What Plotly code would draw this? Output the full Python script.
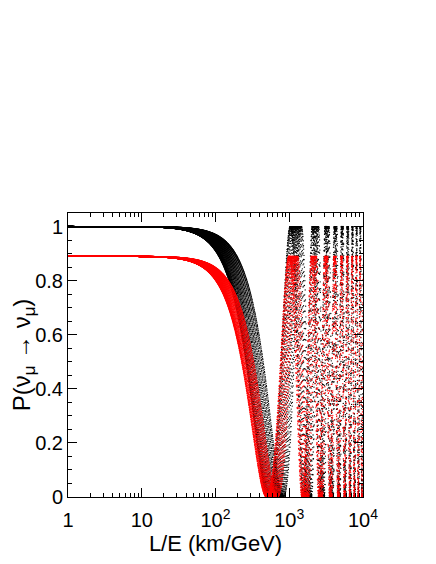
import numpy as np
import plotly.graph_objects as go

# ---- data ----
# effective oscillation phase slope (x1e-3 per km/GeV) of each curve at short L/E
black_k_low = [3.04, 3.01, 2.97, 2.92, 2.86, 2.78, 2.70, 2.60, 2.50, 2.40, 2.30, 2.20, 2.10, 2.00, 1.90, 1.80, 1.72]
red_k_low = [3.20, 3.17, 3.13, 3.08, 3.02, 2.95, 2.87, 2.78, 2.68, 2.58, 2.48, 2.38, 2.28, 2.18]
k_high = 3.11          # common slope at long L/E (x1e-3)
k_turn = 2200.0        # L/E (km/GeV) scale where curves converge
black_plateau = 1.0
red_plateau = 0.89

x_tick_vals = [1, 10, 100, 1000, 10000]
x_tick_text = ["1", "10", "10<sup>2</sup>", "10<sup>3</sup>", "10<sup>4</sup>"]
x_minor_vals = [m * 10 ** d for d in range(4) for m in range(2, 10)]
y_tick_vals = [0, 0.2, 0.4, 0.6, 0.8, 1.0]
y_tick_text = ["0", "0.2", "0.4", "0.6", "0.8", "1"]
y_minor_vals = [round(0.05 * i, 2) for i in range(22)]

GOLD = (np.sqrt(5) - 1) / 2


def family(k_list, plateau, npts=1600):
    xs, ys = [], []
    for i, kl in enumerate(k_list):
        j = np.arange(npts)
        u = np.mod(j * GOLD + i * 0.3819, 1.0)   # low-discrepancy spread of sample points
        t = 4.0 * u ** 1.4
        x = 10 ** t
        s = 1.0 / (1.0 + (x / k_turn) ** 2)
        k = (k_high + (kl - k_high) * s) * 1e-3
        p = plateau * np.cos(k * x) ** 2
        xs.append(x)
        ys.append(p)
    return np.concatenate(xs), np.concatenate(ys)


bx, by = family(black_k_low, black_plateau)
rx, ry = family(red_k_low, red_plateau)

fig = go.Figure()
fig.add_trace(go.Scatter(x=bx, y=by, mode="markers",
                         marker=dict(color="black", size=1.3, line=dict(width=0)),
                         hoverinfo="skip", showlegend=False))
fig.add_trace(go.Scatter(x=rx, y=ry, mode="markers",
                         marker=dict(color="red", size=1.3, line=dict(width=0)),
                         hoverinfo="skip", showlegend=False))

font = "Liberation Sans, Arial, Helvetica, sans-serif"
# the page body adds an 8 px offset, so the figure is 8 px smaller and margins shifted
fig.update_layout(
    width=428, height=556,
    margin=dict(l=60, r=73, t=205, b=67, autoexpand=False),
    paper_bgcolor="white", plot_bgcolor="white",
    font=dict(family=font, color="black", size=20),
    showlegend=False,
)
fig.update_xaxes(
    type="log", range=[0, 4], automargin=False,
    tickvals=x_tick_vals, ticktext=x_tick_text,
    ticks="inside", ticklen=9, tickwidth=1, tickcolor="black",
    ticklabelstandoff=5,
    minor=dict(tickvals=x_minor_vals, ticks="inside", ticklen=4, tickcolor="black", showgrid=False),
    showline=True, linecolor="black", linewidth=1, mirror="ticks",
    showgrid=False, zeroline=False,
    tickfont=dict(size=20),
    title=dict(text="L/E (km/GeV)", font=dict(size=22), standoff=0),
)
fig.update_yaxes(
    range=[0, 1.05], automargin=False,
    tickvals=y_tick_vals, ticktext=y_tick_text,
    ticks="inside", ticklen=9, tickwidth=1, tickcolor="black",
    minor=dict(tickvals=y_minor_vals, ticks="inside", ticklen=4, tickcolor="black", showgrid=False),
    showline=True, linecolor="black", linewidth=1, mirror="ticks",
    showgrid=False, zeroline=False,
    tickfont=dict(size=20),
    title=dict(text="P(ν<sub>μ</sub> → ν<sub>μ</sub>)", font=dict(size=24), standoff=9),
)

fig.write_html("out.html")
